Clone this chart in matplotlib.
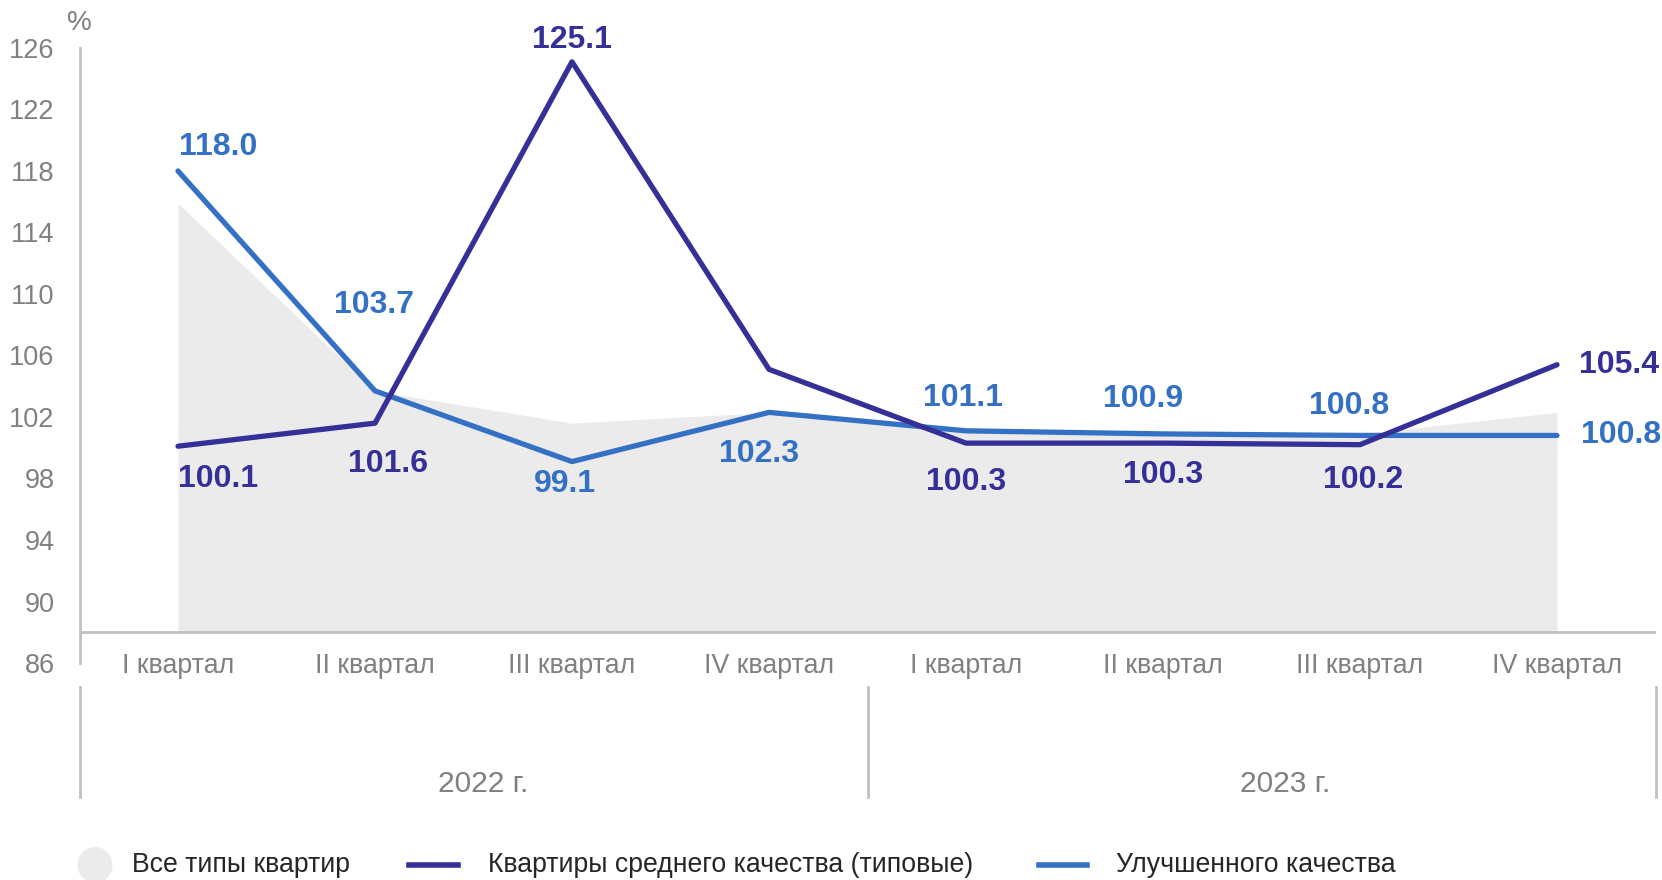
import numpy as np
import matplotlib
matplotlib.use("Agg")
from matplotlib import pyplot as plt
from matplotlib.patches import Ellipse
from matplotlib.lines import Line2D
import matplotlib.transforms as mtransforms

plt.rcParams['font.family'] = ['Liberation Sans', 'DejaVu Sans']

quarters = ["I квартал", "II квартал", "III квартал", "IV квартал",
            "I квартал", "II квартал", "III квартал", "IV квартал"]
years = ["2022 г.", "2023 г."]
all_types = [115.9, 103.7, 101.6, 102.3, 101.3, 101.0, 100.9, 102.3]
standard = [100.1, 101.6, 125.1, 105.1, 100.3, 100.3, 100.2, 105.4]
improved = [118.0, 103.7, 99.1, 102.3, 101.1, 100.9, 100.8, 100.8]
standard_labels = ["100.1", "101.6", "125.1", None, "100.3", "100.3", "100.2", "105.4"]
improved_labels = ["118.0", "103.7", "99.1", "102.3", "101.1", "100.9", "100.8", "100.8"]
legend_names = ["Все типы квартир", "Квартиры среднего качества (типовые)", "Улучшенного качества"]

NAVY = "#352f98"
BLUE = "#3471c5"
FILL = "#ebebeb"
AXIS = "#c0c0c0"
TICK = "#808080"

# label offsets in pixels (dx, dy)
std_off = [(40, -33), (13, -41), (0, 22), None, (0, -39), (0, -32), (3, -35), (62, 0)]
imp_off = [(40, 24), (-1, 86), (-7, -22), (-10, -42), (-3, 33), (-20, 35), (-11, 29), (64, 0)]

fig = plt.figure(figsize=(16.62, 8.8), dpi=100)
ax = fig.add_axes([79.5 / 1662, 1 - 663 / 880, (1655.5 - 79.5) / 1662, (663 - 48) / 880])

x = np.arange(len(quarters))
base = 88
ax.fill_between(x, base, all_types, color=FILL, lw=0, zorder=1)
ax.axhline(base, color=AXIS, lw=2, zorder=2)
ax.plot(x, improved, color=BLUE, lw=3.8, solid_capstyle='round', zorder=3)
ax.plot(x, standard, color=NAVY, lw=3.8, solid_capstyle='round', zorder=4)

for i in x:
    if standard_labels[i] is not None:
        dx, dy = std_off[i]
        ax.annotate(standard_labels[i], (i, standard[i]), xytext=(dx, dy),
                    textcoords='offset pixels', ha='center', va='center',
                    color=NAVY, fontsize=23, fontweight='bold', zorder=5)
    dx, dy = imp_off[i]
    ax.annotate(improved_labels[i], (i, improved[i]), xytext=(dx, dy),
                textcoords='offset pixels', ha='center', va='center',
                color=BLUE, fontsize=23, fontweight='bold', zorder=5)

ax.set_xlim(-0.5, 7.5)
ax.set_ylim(86, 126)
ax.set_yticks(np.arange(86, 127, 4))
ax.tick_params(axis='y', length=0, labelsize=19.5, labelcolor=TICK, pad=18)
ax.set_xticks([])
for s in ['top', 'right', 'bottom']:
    ax.spines[s].set_visible(False)
ax.spines['left'].set_color(AXIS)
ax.spines['left'].set_linewidth(2)

# category axis: quarters, separators, years
trans = mtransforms.blended_transform_factory(ax.transData, fig.transFigure)
for i, q in enumerate(quarters):
    ax.text(i, 1 - 666 / 880, q, transform=trans, ha='center', va='center',
            fontsize=19.3, color=TICK)
for sx in [-0.5, 3.5, 7.5]:
    ax.add_line(Line2D([sx, sx], [1 - 687 / 880, 1 - 797 / 880], transform=trans,
                       color=AXIS, lw=2, clip_on=False))
for cx, yr in zip([1.55, 5.62], years):
    ax.text(cx, 1 - 784 / 880, yr, transform=trans, ha='center', va='center',
            fontsize=21.5, color=TICK)

fig.text(79 / 1662, 1 - 23 / 880, "%", ha='center', va='center', fontsize=20, color=TICK)

# legend
ly = 1 - 865 / 880
fig.patches.append(Ellipse((95 / 1662, ly), 35 / 1662, 36 / 880, transform=fig.transFigure,
                           color=FILL, lw=0))
fig.lines.append(Line2D([409 / 1662, 458 / 1662], [ly, ly], transform=fig.transFigure,
                        color=NAVY, lw=4))
fig.lines.append(Line2D([1039 / 1662, 1087 / 1662], [ly, ly], transform=fig.transFigure,
                        color=BLUE, lw=4))
for lx, name in zip([132, 488, 1116], legend_names):
    fig.text(lx / 1662, ly, name, ha='left', va='center', fontsize=19.2, color="#262626")

fig.savefig("out.png", dpi=100)
